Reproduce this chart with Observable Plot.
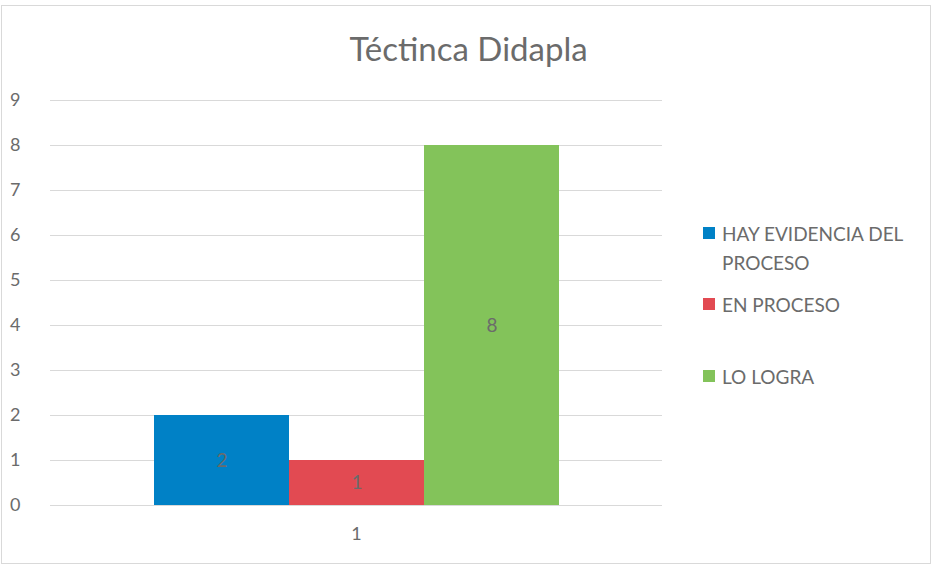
<!DOCTYPE html>
<html><head><meta charset="utf-8">
<script src="https://cdn.jsdelivr.net/npm/d3@7"></script>
<script src="https://cdn.jsdelivr.net/npm/@observablehq/plot@0.6"></script>
<style>
body{margin:0;background:#fff;font-family:Lato,"Open Sans",sans-serif;}
#wrap{position:relative;width:937px;height:567px;overflow:hidden;}
#frame{position:absolute;left:1px;top:5px;width:930px;height:559px;border:1px solid #d9d9d9;box-sizing:border-box;}
#title{position:absolute;left:0;top:28px;width:937px;text-align:center;font-size:33px;color:#6b6b6b;}
#chart{position:absolute;left:0;top:0;}
.leg{position:absolute;left:703px;font-size:19px;color:#6b6b6b;line-height:29px;}
.leg .sw{position:absolute;left:0;top:8px;width:12px;height:12px;}
.leg .tx{position:absolute;left:19px;top:0;white-space:nowrap;}
</style></head>
<body>
<div id="wrap">
<div id="frame"></div>
<div id="chart"></div>
<div id="title">Téctinca Didapla</div>
<div id="legend"></div>
</div>
<script>
const title = "Téctinca Didapla";
const categories = ["1"];
const series = ["HAY EVIDENCIA DEL PROCESO", "EN PROCESO", "LO LOGRA"];
const values = [2, 1, 8];
const colors = ["#0081C6", "#E24A52", "#83C35A"];
const yTicks = [0,1,2,3,4,5,6,7,8,9];

const data = series.map((s, i) => ({cat: categories[0], series: s, value: values[i]}));

const plot = Plot.plot({
  width: 937, height: 567,
  marginLeft: 50, marginRight: 275, marginTop: 100, marginBottom: 62,
  style: {fontFamily: "Lato, 'Open Sans', sans-serif", fontSize: "18px", color: "#6b6b6b", background: "transparent"},
  fx: {domain: categories, label: null, padding: 0},
  x: {domain: series, axis: null, paddingInner: 0, paddingOuter: 0.76},
  y: {domain: [0, 9], label: null},
  color: {domain: series, range: colors},
  marks: [
    Plot.gridY(yTicks, {stroke: "#d9d9d9", strokeOpacity: 1, strokeWidth: 1}),
    Plot.axisY(yTicks, {tickSize: 0, tickPadding: 30, textAnchor: "end", fontSize: 18, fill: "#6b6b6b", label: null}),
    Plot.axisFx({anchor: "bottom", tickSize: 0, tickPadding: 22, fontSize: 18, fill: "#6b6b6b", label: null}),
    Plot.barY(data, {fx: "cat", x: "series", y: "value", fill: "series"}),
    Plot.text(data, {fx: "cat", x: "series", y: d => d.value / 2, text: d => String(d.value), fill: "#6b6b6b", fontSize: 19})
  ]
});
document.getElementById("chart").appendChild(plot);

const legendTops = [219, 290, 362];
const leg = document.getElementById("legend");
series.forEach((s, i) => {
  const d = document.createElement("div");
  d.className = "leg";
  d.style.top = legendTops[i] + "px";
  const sw = document.createElement("div");
  sw.className = "sw"; sw.style.background = colors[i];
  const tx = document.createElement("div");
  tx.className = "tx";
  tx.innerHTML = i === 0 ? "HAY EVIDENCIA DEL<br>PROCESO" : s;
  d.appendChild(sw); d.appendChild(tx);
  leg.appendChild(d);
});
</script>
</body></html>
